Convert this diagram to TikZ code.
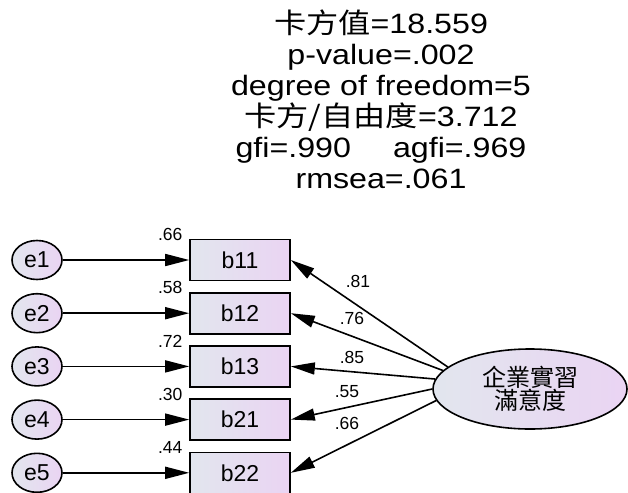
\documentclass[tikz,border=0pt]{standalone}
\usepackage{fontspec}
\setmainfont{Liberation Sans}
\newfontfamily\cjk{Noto Sans CJK TC}
\newfontfamily\widesans{Liberation Sans}[FakeStretch=1.15]
\newfontfamily\widecjk{Noto Sans CJK TC}[FakeStretch=1.15]
\usetikzlibrary{arrows.meta,positioning,shapes.geometric}
\definecolor{shadeL}{RGB}{226,230,238}
\definecolor{shadeR}{RGB}{234,212,243}

\begin{document}
\begin{tikzpicture}[x=1pt,y=-1pt,>={Triangle[length=24pt,width=12pt]},line width=1.6pt,
    errvar/.style={draw,ellipse,minimum width=50pt,minimum height=39pt,inner sep=0pt,left color=shadeL,right color=shadeR,font=\fontsize{23}{25}\selectfont},
    obsbox/.style={draw,rectangle,minimum width=100pt,minimum height=41pt,inner sep=0pt,left color=shadeL,right color=shadeR,font=\fontsize{23}{25}\selectfont},
    latvar/.style={draw,ellipse,minimum width=194pt,minimum height=80pt,inner sep=0pt,left color=shadeL,right color=shadeR,align=center,font=\cjk\fontsize{24}{22}\selectfont},
    coef/.style={inner sep=0pt,font=\fontsize{17.5}{19}\selectfont},
    fitline/.style={anchor=base,inner sep=0pt,font=\widesans\fontsize{28}{30}\selectfont}]
    \useasboundingbox (0,0) rectangle (628,492);
    % fit indices
    \foreach \t [count=\k from 0] in {{\widecjk 卡方值}=18.559, p-value=.002, degree of freedom=5, {\widecjk 卡方/自由度}=3.712, gfi=.990\hspace{42pt}agfi=.969, rmsea=.061}
      \node[fitline] (fit\k) at (381,34+30.8*\k) {\t};
    % indicators and their errors
    \foreach \i/\b/\v [count=\k from 0] in {1/11/.66, 2/12/.58, 3/13/.72, 4/21/.30, 5/22/.44} {
      \node[errvar] (e\i) at (37,260+53.2*\k) {e\i};
      \node[obsbox] (b\b) at (240,260+53.2*\k) {b\b};
      \draw[->] (e\i) -- (b\b);
      \node[coef,anchor=base east] (r\b) at ([xshift=-6pt,yshift=-2pt]b\b.north west) {\v};
    }
    \node[latvar] (sat) at (530,389) {企業實習\\滿意度};
    \draw[->] (sat.165) -- (b11.east);
    \draw[->] (sat.168) -- (b12.east);
    \draw[->] (sat.174) -- (b13.east);
    \draw[->] (sat.180) -- (b21.east);
    \draw[->] (sat.187) -- (b22.east);
    % loadings
    \node[coef] (l11) at (358,281) {.81};
    \node[coef] (l12) at (352,318) {.76};
    \node[coef] (l13) at (352,357) {.85};
    \node[coef] (l21) at (347,392) {.55};
    \node[coef] (l22) at (347,423) {.66};
\end{tikzpicture}
\end{document}
